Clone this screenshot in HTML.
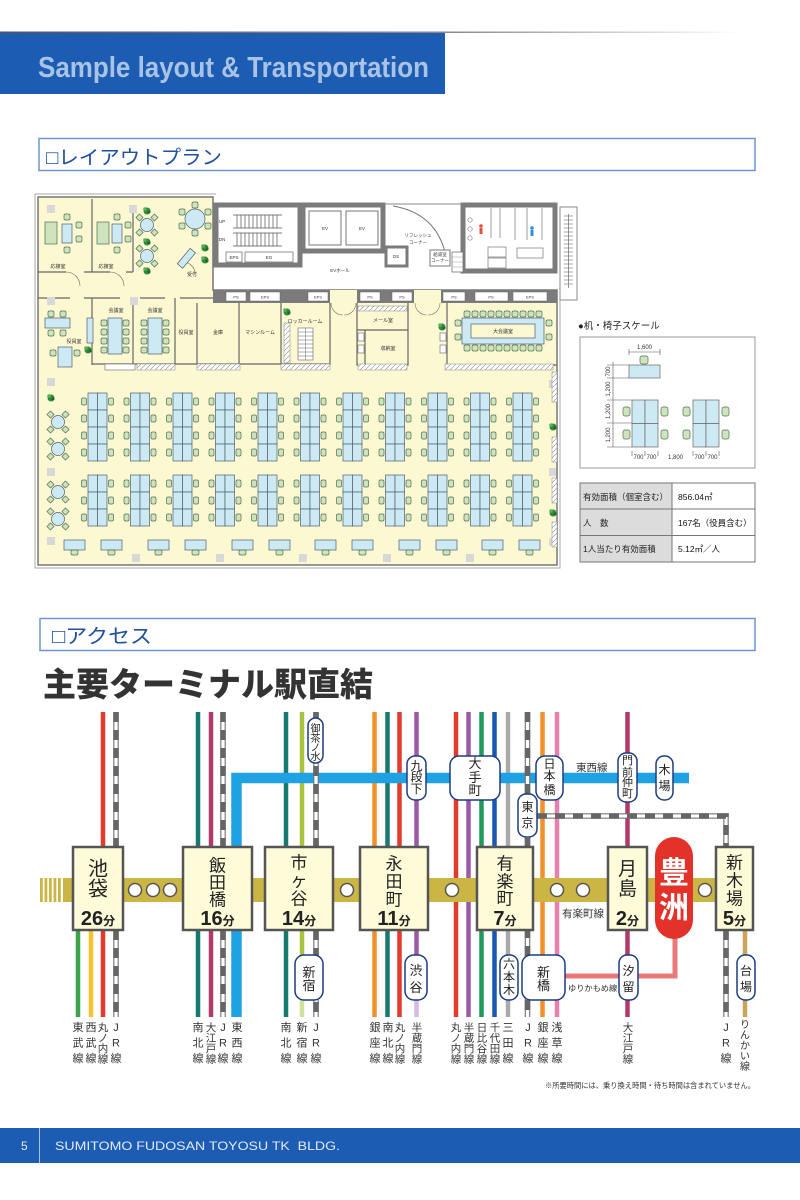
<!DOCTYPE html>
<html><head><meta charset="utf-8"><style>
html,body{margin:0;padding:0;background:#fff;}
svg{display:block;}
</style></head><body>
<svg width="800" height="1200" viewBox="0 0 800 1200" xmlns="http://www.w3.org/2000/svg" font-family="'Liberation Sans','Noto Sans CJK JP',sans-serif">
<defs>
<linearGradient id="gl" x1="0" x2="1" y1="0" y2="0"><stop offset="0" stop-color="#555"/><stop offset="0.6" stop-color="#888"/><stop offset="1" stop-color="#fff"/></linearGradient>
<pattern id="hatch" width="5" height="5" patternUnits="userSpaceOnUse"><rect width="5" height="5" fill="#fff"/><path d="M0,5L5,0" stroke="#888" stroke-width="0.6"/></pattern>
<g id="dr">
<rect x="0" y="0" width="9.5" height="17" fill="#cdeaf4" stroke="#4f5f6f" stroke-width="0.7"/>
<rect x="9.5" y="0" width="9.5" height="17" fill="#cdeaf4" stroke="#4f5f6f" stroke-width="0.7"/>
<rect x="-6.5" y="5" width="5" height="7" rx="1.5" fill="#cfe3bf" stroke="#4f6f4f" stroke-width="0.7"/>
<rect x="20.5" y="5" width="5" height="7" rx="1.5" fill="#cfe3bf" stroke="#4f6f4f" stroke-width="0.7"/>
</g>
<g id="c4"><use href="#dr"/><use href="#dr" y="17"/><use href="#dr" y="34"/><use href="#dr" y="51"/></g>
<g id="c3"><use href="#dr"/><use href="#dr" y="17"/><use href="#dr" y="34"/></g>
<g id="bd">
<rect x="0" y="0" width="21" height="10" fill="#cdeaf4" stroke="#4f5f6f" stroke-width="0.7"/>
<rect x="7" y="10" width="7" height="5" rx="1.5" fill="#cfe3bf" stroke="#4f6f4f" stroke-width="0.7"/>
</g>
<g id="rt">
<rect x="-10" y="-10" width="5" height="5" fill="#cfe3bf" stroke="#4f6f4f" stroke-width="0.7" transform="rotate(45 -7.5 -7.5)"/>
<rect x="5" y="-10" width="5" height="5" fill="#cfe3bf" stroke="#4f6f4f" stroke-width="0.7" transform="rotate(45 7.5 -7.5)"/>
<rect x="-10" y="5" width="5" height="5" fill="#cfe3bf" stroke="#4f6f4f" stroke-width="0.7" transform="rotate(45 -7.5 7.5)"/>
<rect x="5" y="5" width="5" height="5" fill="#cfe3bf" stroke="#4f6f4f" stroke-width="0.7" transform="rotate(45 7.5 7.5)"/>
<circle r="6.5" fill="#cdeaf4" stroke="#4f5f6f" stroke-width="0.7"/>
</g>
<g id="pl"><circle r="3.5" fill="#2f8a3a"/><circle cx="-2" cy="-2" r="1.8" fill="#5cb05c"/><circle cx="2" cy="1" r="1.5" fill="#1f6a2a"/></g>
<rect id="ch" width="6" height="6" rx="1.5" fill="#cfe3bf" stroke="#4f6f4f" stroke-width="0.7"/>
</defs>

<rect width="800" height="1200" fill="#fff"/>

<!-- HEADER -->
<rect x="0" y="31.5" width="740" height="1.5" fill="url(#gl)"/>
<rect x="0" y="33" width="445" height="61" fill="#1d5cb3"/>
<text x="38" y="77" font-size="29" font-weight="bold" fill="#a9c3e4" textLength="391" lengthAdjust="spacingAndGlyphs">Sample layout &amp; Transportation</text>

<!-- SECTION 1 -->
<rect x="39" y="138.5" width="716" height="32" fill="#fff" stroke="#6f95cc" stroke-width="1.5"/>
<text x="46" y="164" font-size="19.5" fill="#1f4fa0" textLength="176" lengthAdjust="spacingAndGlyphs">□レイアウトプラン</text>

<!-- FLOOR PLAN -->
<g>
<path d="M35,194H216 M35,194V568H560V293" fill="none" stroke="#aaa" stroke-width="1"/>
<path d="M38,197H213V290H557V565H38Z" fill="#fcf8d1" stroke="#777" stroke-width="1.5"/>
<!-- core -->
<g fill="#fff" stroke="#7b7b7b">
<rect x="216" y="205" width="84" height="60" stroke-width="5"/>
<rect x="303" y="205" width="80" height="46" stroke-width="5"/>
<rect x="463" y="205" width="92" height="66" stroke-width="5"/>
<rect x="386" y="247" width="21" height="19" stroke-width="3"/>
</g>
<path d="M383,204H463" stroke="#888" stroke-width="1"/>
<path d="M393,206Q440,214 447,262" fill="none" stroke="#777" stroke-width="1"/>
<rect x="430" y="250" width="20" height="16" fill="#fff" stroke="#777" stroke-width="1"/>
<rect x="452" y="252" width="11" height="20" fill="#fff" stroke="#777" stroke-width="0.8"/>
<path d="M452,257H463M452,262H463M452,267H463" stroke="#999" stroke-width="0.6"/>
<g stroke="#555" stroke-width="0.7">
<path d="M233,215H282M233,228H282M233,233H282M233,246H282"/>
<path d="M237,215V228M241,215V228M245,215V228M249,215V228M253,215V228M257,215V228M261,215V228M265,215V228M269,215V228M273,215V228M277,215V228"/>
<path d="M237,233V246M241,233V246M245,233V246M249,233V246M253,233V246M257,233V246M261,233V246M265,233V246M269,233V246M273,233V246M277,233V246"/>
</g>
<rect x="226" y="252" width="16" height="10" fill="#fff" stroke="#777" stroke-width="0.8"/>
<rect x="245" y="252" width="48" height="10" fill="#fff" stroke="#777" stroke-width="0.8"/>
<rect x="309" y="211" width="32" height="34" fill="#fff" stroke="#777" stroke-width="1"/>
<rect x="346" y="211" width="32" height="34" fill="#fff" stroke="#777" stroke-width="1"/>
<g font-size="4.5" fill="#333" text-anchor="middle">
<text x="222" y="223">UP</text><text x="222" y="241">DN</text>
<text x="234" y="259">EPS</text><text x="269" y="259">EG</text>
<text x="325" y="230">EV</text><text x="362" y="230">EV</text>
<text x="396" y="258">DS</text>
<text x="418" y="237">リフレッシュ</text><text x="418" y="244">コーナー</text>
<text x="440" y="256">給湯室</text><text x="440" y="262">コーナー</text>
<text x="340" y="272">EVホール</text>
<text x="497" y="253">DS</text><text x="497" y="265">PS</text>
</g>
<!-- toilets interior -->
<g fill="#fff" stroke="#888" stroke-width="0.8">
<rect x="488" y="247" width="18" height="10"/><rect x="488" y="258" width="18" height="10"/>
<rect x="517" y="248" width="26" height="10"/>
<path d="M491,208V238 M500,208V238 M515,208V240 M527,208V240 M542,208V240" fill="none"/>
</g>
<circle cx="470" cy="220" r="2.2" fill="none" stroke="#888" stroke-width="0.7"/>
<circle cx="470" cy="229" r="2.2" fill="none" stroke="#888" stroke-width="0.7"/>
<circle cx="470" cy="238" r="2.2" fill="none" stroke="#888" stroke-width="0.7"/>
<circle cx="481" cy="226" r="1.8" fill="#e0503a"/><rect x="479.5" y="228" width="3" height="6" fill="#e0503a"/>
<circle cx="532" cy="228" r="1.8" fill="#2f8ed8"/><rect x="530.5" y="230" width="3" height="6" fill="#2f8ed8"/>
<!-- right exterior stair -->
<rect x="560" y="207" width="17" height="93" fill="#fff" stroke="#888" stroke-width="1"/>
<path d="M564,216H573M564,220H573M564,224H573M564,228H573M564,232H573M564,236H573M564,240H573M564,244H573M564,248H573M564,252H573M564,256H573M564,260H573M564,264H573M564,268H573M564,272H573M564,276H573M564,280H573M564,284H573 M568.5,214V288" stroke="#555" stroke-width="0.6"/>
<!-- bottom wall strip -->
<rect x="213" y="290" width="344" height="13" fill="#7b7b7b"/>
<rect x="330" y="290" width="27" height="13" fill="#fcf8d1"/>
<rect x="414" y="290" width="27" height="13" fill="#fcf8d1"/>
<g fill="#fff" stroke="#666" stroke-width="0.5">
<rect x="226" y="292" width="20" height="9"/><rect x="250" y="292" width="30" height="9"/>
<rect x="308" y="292" width="20" height="9"/><rect x="360" y="292" width="20" height="9"/>
<rect x="392" y="292" width="20" height="9"/><rect x="443" y="292" width="22" height="9"/>
<rect x="475" y="292" width="33" height="9"/><rect x="513" y="292" width="34" height="9"/>
</g>
<g font-size="4" fill="#333" text-anchor="middle">
<text x="236" y="298.5">PS</text><text x="265" y="298.5">EPS</text><text x="318" y="298.5">EPS</text>
<text x="370" y="298.5">PS</text><text x="402" y="298.5">PS</text><text x="454" y="298.5">PS</text>
<text x="491" y="298.5">PS</text><text x="530" y="298.5">EPS</text>
</g>
<path d="M331,303A12,12 0 0 0 343,315 M356,303A12,12 0 0 1 344,315 M415,303A12,12 0 0 0 427,315 M440,303A12,12 0 0 1 428,315" fill="none" stroke="#777" stroke-width="0.6"/>
<!-- upper-left rooms -->
<g fill="none" stroke="#666" stroke-width="1.2">
<path d="M92,199V272 M133,212V272 M38,272H66 M84,272H110 M126,272H133 M38,298H70 M84,298H120 M140,298H165 M180,298H213 M92,298V365 M133,298V365 M175,298V365 M197,303V365 M239,303V365 M281,303V365 M330,303V365 M92,364H330 M357,303V365H408V303 M357,330H408 M365,330V365 M447,303V365H557"/>
<path d="M66,272A14,14 0 0 1 80,286 M110,272A14,14 0 0 1 124,286 M183,262A12,12 0 0 1 195,274" stroke-width="0.6"/>
</g>
<g fill="#d8d8d8"><rect x="47" y="205" width="8" height="8"/><rect x="129" y="205" width="8" height="8"/><rect x="47" y="297" width="8" height="8"/><rect x="130" y="297" width="8" height="8"/><rect x="47" y="378" width="8" height="8"/>
<rect x="47" y="468" width="8" height="8"/><rect x="47" y="537" width="8" height="8"/><rect x="132" y="554" width="8" height="8"/><rect x="216" y="554" width="8" height="8"/><rect x="299" y="554" width="8" height="8"/><rect x="383" y="554" width="8" height="8"/><rect x="466" y="554" width="8" height="8"/><rect x="549" y="380" width="7" height="8"/><rect x="549" y="468" width="7" height="8"/><rect x="549" y="538" width="7" height="8"/></g>
<!-- reception rooms furniture -->
<rect x="45" y="222" width="12" height="22" fill="#cfe3bf" stroke="#4f6f4f" stroke-width="0.7"/>
<rect x="62" y="224" width="10" height="19" fill="#cdeaf4" stroke="#4f5f6f" stroke-width="0.7"/>
<use href="#ch" x="64" y="214"/><use href="#ch" x="64" y="247"/><use href="#ch" x="76" y="222"/><use href="#ch" x="76" y="236"/>
<rect x="97" y="222" width="12" height="22" fill="#cfe3bf" stroke="#4f6f4f" stroke-width="0.7"/>
<rect x="112" y="224" width="10" height="19" fill="#cdeaf4" stroke="#4f5f6f" stroke-width="0.7"/>
<use href="#ch" x="114" y="214"/><use href="#ch" x="114" y="247"/><use href="#ch" x="125" y="222"/><use href="#ch" x="125" y="236"/>
<use href="#rt" x="147" y="225"/><use href="#rt" x="147" y="256"/>
<g transform="translate(195 219)"><use href="#ch" x="-3" y="-17"/><use href="#ch" x="-3" y="11"/><use href="#ch" x="-16" y="-10"/><use href="#ch" x="10" y="-10"/><use href="#ch" x="-16" y="4"/><use href="#ch" x="10" y="4"/><circle r="10" fill="#cdeaf4" stroke="#4f5f6f" stroke-width="0.7"/></g>
<rect x="176" y="255" width="20" height="7" fill="#cdeaf4" stroke="#4f5f6f" stroke-width="0.7" transform="rotate(-50 186 258)"/>
<use href="#pl" x="147" y="211"/><use href="#pl" x="147" y="242"/><use href="#pl" x="147" y="271"/><use href="#pl" x="205" y="248"/><use href="#pl" x="205" y="260"/><use href="#pl" x="287" y="312"/><use href="#pl" x="88" y="350"/><use href="#pl" x="442" y="327"/><use href="#pl" x="51" y="398"/><use href="#pl" x="553" y="427"/><use href="#pl" x="553" y="513"/>
<!-- row 2 furniture -->
<rect x="45" y="318" width="25" height="10" fill="#cdeaf4" stroke="#4f5f6f" stroke-width="0.7"/>
<use href="#ch" x="48" y="311"/><use href="#ch" x="60" y="311"/><use href="#ch" x="48" y="330"/><use href="#ch" x="60" y="330"/>
<rect x="58" y="347" width="14" height="20" fill="#cdeaf4" stroke="#4f5f6f" stroke-width="0.7"/>
<use href="#ch" x="50" y="350"/><use href="#ch" x="74" y="350"/>
<rect x="87" y="318" width="6" height="25" fill="#cdeaf4" stroke="#4f5f6f" stroke-width="0.7"/>
<rect x="108" y="318" width="14" height="36" fill="#cdeaf4" stroke="#4f5f6f" stroke-width="0.7"/>
<use href="#ch" x="101" y="320"/><use href="#ch" x="101" y="329"/><use href="#ch" x="101" y="338"/><use href="#ch" x="101" y="347"/>
<use href="#ch" x="123" y="320"/><use href="#ch" x="123" y="329"/><use href="#ch" x="123" y="338"/><use href="#ch" x="123" y="347"/>
<rect x="148" y="318" width="14" height="36" fill="#cdeaf4" stroke="#4f5f6f" stroke-width="0.7"/>
<use href="#ch" x="141" y="320"/><use href="#ch" x="141" y="329"/><use href="#ch" x="141" y="338"/><use href="#ch" x="141" y="347"/>
<use href="#ch" x="163" y="320"/><use href="#ch" x="163" y="329"/><use href="#ch" x="163" y="338"/><use href="#ch" x="163" y="347"/>
<rect x="298" y="328" width="15" height="32" fill="#fff" stroke="#666" stroke-width="0.6"/>
<path d="M305.5,328V360 M298,332H313M298,336H313M298,340H313M298,344H313M298,348H313M298,352H313M298,356H313" stroke="#666" stroke-width="0.5"/>
<rect x="284" y="323" width="6" height="40" fill="url(#hatch)" stroke="#888" stroke-width="0.5"/>
<rect x="358" y="333" width="6" height="8" fill="#fff" stroke="#666" stroke-width="0.6"/><rect x="358" y="345" width="6" height="8" fill="#fff" stroke="#666" stroke-width="0.6"/>
<rect x="440" y="333" width="6" height="8" fill="#fff" stroke="#666" stroke-width="0.6"/><rect x="440" y="345" width="6" height="8" fill="#fff" stroke="#666" stroke-width="0.6"/>
<rect x="462" y="318" width="82" height="26" fill="#cdeaf4" stroke="#4f5f6f" stroke-width="0.7"/>
<rect x="471" y="324" width="64" height="14" fill="#fcf8d1" stroke="#4f5f6f" stroke-width="0.7"/>
<g>
<use href="#ch" x="464" y="311"/><use href="#ch" x="472" y="311"/><use href="#ch" x="480" y="311"/><use href="#ch" x="488" y="311"/><use href="#ch" x="496" y="311"/><use href="#ch" x="504" y="311"/><use href="#ch" x="512" y="311"/><use href="#ch" x="520" y="311"/><use href="#ch" x="528" y="311"/><use href="#ch" x="536" y="311"/>
<use href="#ch" x="464" y="345"/><use href="#ch" x="472" y="345"/><use href="#ch" x="480" y="345"/><use href="#ch" x="488" y="345"/><use href="#ch" x="496" y="345"/><use href="#ch" x="504" y="345"/><use href="#ch" x="512" y="345"/><use href="#ch" x="520" y="345"/><use href="#ch" x="528" y="345"/><use href="#ch" x="536" y="345"/>
<use href="#ch" x="546" y="320"/><use href="#ch" x="546" y="334"/><use href="#ch" x="455" y="320"/><use href="#ch" x="455" y="334"/>
</g>
<g fill="url(#hatch)" stroke="#888" stroke-width="0.5">
<rect x="137" y="364" width="38" height="6"/><rect x="197" y="364" width="43" height="6"/><rect x="281" y="364" width="49" height="6"/><rect x="358" y="364" width="49" height="6"/><rect x="445" y="364" width="108" height="6"/><rect x="358" y="306" width="49" height="5"/>
<rect x="552" y="372" width="5" height="30"/><rect x="552" y="437" width="5" height="25"/><rect x="552" y="478" width="5" height="25"/><rect x="552" y="522" width="5" height="25"/>
</g>
<rect x="105" y="364" width="30" height="6" fill="#fff" stroke="#666" stroke-width="0.6"/>
<g font-size="5" fill="#333" text-anchor="middle">
<text x="58" y="268">応接室</text><text x="106" y="268">応接室</text><text x="192" y="276">受付</text>
<text x="74" y="343">役員室</text><text x="116" y="312">会議室</text><text x="155" y="312">会議室</text>
<text x="186" y="334">役員室</text><text x="218" y="334">金庫</text><text x="260" y="334">マシンルーム</text>
<text x="305" y="323">ロッカールーム</text><text x="383" y="322">メール室</text><text x="388" y="350">収納室</text>
<text x="503" y="333">大会議室</text>
</g>
<!-- open office -->
<use href="#c4" x="88" y="393"/><use href="#c4" x="130.5" y="393"/><use href="#c4" x="173" y="393"/><use href="#c4" x="215.5" y="393"/><use href="#c4" x="258" y="393"/><use href="#c4" x="300.5" y="393"/><use href="#c4" x="343" y="393"/><use href="#c4" x="385.5" y="393"/><use href="#c4" x="428" y="393"/><use href="#c4" x="470.5" y="393"/><use href="#c4" x="513" y="393"/>
<use href="#c3" x="88" y="475"/><use href="#c3" x="130.5" y="475"/><use href="#c3" x="173" y="475"/><use href="#c3" x="215.5" y="475"/><use href="#c3" x="258" y="475"/><use href="#c3" x="300.5" y="475"/><use href="#c3" x="343" y="475"/><use href="#c3" x="385.5" y="475"/><use href="#c3" x="428" y="475"/><use href="#c3" x="470.5" y="475"/><use href="#c3" x="513" y="475"/>
<use href="#bd" x="64" y="540"/><use href="#bd" x="101" y="540"/><use href="#bd" x="148" y="540"/><use href="#bd" x="185" y="540"/><use href="#bd" x="232" y="540"/><use href="#bd" x="269" y="540"/><use href="#bd" x="315" y="540"/><use href="#bd" x="352" y="540"/><use href="#bd" x="399" y="540"/><use href="#bd" x="436" y="540"/><use href="#bd" x="482" y="540"/><use href="#bd" x="519" y="540"/>
<use href="#rt" x="58" y="422"/><use href="#rt" x="58" y="449"/><use href="#rt" x="58" y="492"/><use href="#rt" x="58" y="519"/>
</g>

<!-- SCALE -->
<text x="578" y="329" font-size="9.5" fill="#222">●机・椅子スケール</text>
<rect x="580" y="337" width="175" height="131" fill="#fff" stroke="#999" stroke-width="1"/>
<g stroke="#555" stroke-width="0.6" fill="none">
<path d="M629,352H660 M629,349V355 M660,349V355"/>
<path d="M613,362V447 M607,365H629 M607,378H629 M607,400H632 M607,423H632 M607,447H632"/>
<path d="M632,451V456 M645,451V456 M658,451V456 M693,451V456 M706,451V456 M719,451V456"/>
</g>
<rect x="640" y="356" width="8" height="8" rx="2" fill="#cfe3bf" stroke="#4f6f4f" stroke-width="0.7"/>
<rect x="629" y="365" width="31" height="13" fill="#cdeaf4" stroke="#666" stroke-width="0.7"/>
<g fill="#cdeaf4" stroke="#666" stroke-width="0.7">
<rect x="632" y="400" width="13" height="23.5"/><rect x="645" y="400" width="13" height="23.5"/><rect x="632" y="423.5" width="13" height="23.5"/><rect x="645" y="423.5" width="13" height="23.5"/>
<rect x="693" y="400" width="13" height="23.5"/><rect x="706" y="400" width="13" height="23.5"/><rect x="693" y="423.5" width="13" height="23.5"/><rect x="706" y="423.5" width="13" height="23.5"/>
</g>
<g fill="#cfe3bf" stroke="#4f6f4f" stroke-width="0.7">
<rect x="623" y="407" width="7" height="9" rx="2"/><rect x="623" y="430" width="7" height="9" rx="2"/><rect x="661" y="407" width="7" height="9" rx="2"/><rect x="661" y="430" width="7" height="9" rx="2"/>
<rect x="683" y="407" width="7" height="9" rx="2"/><rect x="683" y="430" width="7" height="9" rx="2"/><rect x="722" y="407" width="7" height="9" rx="2"/><rect x="722" y="430" width="7" height="9" rx="2"/>
</g>
<g font-size="6" fill="#333" text-anchor="middle">
<text x="644.5" y="349">1,600</text>
<text x="638.5" y="459">700</text><text x="651.5" y="459">700</text><text x="675.5" y="459">1,800</text><text x="699.5" y="459">700</text><text x="712.5" y="459">700</text>
<text transform="translate(610 371.5) rotate(-90)">700</text>
<text transform="translate(610 389) rotate(-90)">1,200</text>
<text transform="translate(610 411.5) rotate(-90)">1,200</text>
<text transform="translate(610 435) rotate(-90)">1,200</text>
</g>
<!-- table -->
<rect x="580" y="483" width="92" height="79" fill="#dcdcdc"/>
<rect x="580" y="483" width="175" height="79" fill="none" stroke="#777" stroke-width="1"/>
<path d="M672,483V562 M580,509H755 M580,535.5H755" stroke="#777" stroke-width="1"/>
<g font-size="8.5" fill="#222">
<text x="583" y="500">有効面積（個室含む）</text>
<text x="583" y="526">人　数</text>
<text x="583" y="552">1人当たり有効面積</text>
<text x="678" y="500" fill="#111">856.04㎡</text>
<text x="678" y="526" fill="#111">167名（役員含む）</text>
<text x="678" y="552" fill="#111">5.12㎡／人</text>
</g>

<!-- SECTION 2 -->
<rect x="40" y="618.5" width="715" height="32" fill="#fff" stroke="#6f95cc" stroke-width="1.5"/>
<text x="52" y="643" font-size="20" fill="#1f4fa0" textLength="100" lengthAdjust="spacingAndGlyphs">□アクセス</text>
<text x="43" y="696" font-size="33" font-weight="900" fill="#333" textLength="330" lengthAdjust="spacingAndGlyphs">主要ターミナル駅直結</text>

<!-- TRANSIT: vertical lines -->
<g fill="none" stroke-width="4.5">
<path d="M103,712V1017 M399.5,712V1017 M456,712V1017" stroke="#e23b2e"/>
<path d="M78,930V1017" stroke="#3ca34a"/>
<path d="M91,930V1017" stroke="#f6c431"/>
<path d="M198,712V1017 M286,712V1017 M387.5,712V1017" stroke="#17796f"/>
<path d="M211,712V1017 M627.5,712V1017" stroke="#b23a6b"/>
<path d="M302,712V1000" stroke="#a9c23f"/>
<path d="M302,1000V1017" stroke="#cfe39a"/>
<path d="M374.5,712V1017 M542.5,712V1017" stroke="#f0922b"/>
<path d="M416.5,712V1000 M468.5,712V1017" stroke="#9b59a8"/>
<path d="M416.5,1000V1017" stroke="#d8b9e2"/>
<path d="M481.5,712V1017" stroke="#1e9b5c"/>
<path d="M494.5,712V1017" stroke="#1957b5"/>
<path d="M508,712V1017" stroke="#a9a9a9"/>
<path d="M557,712V1017" stroke="#ea7fae"/>
<path d="M745,930V1017" stroke="#c9a45a"/>
</g>
<!-- Tozai -->
<path d="M236.5,1017V778H689" fill="none" stroke="#1fa2e4" stroke-width="10.5" stroke-linejoin="miter"/>
<!-- JR -->
<g fill="none">
<path d="M116,712V847 M116,930V1017 M223,712V847 M223,930V1017 M316,712V847 M316,930V1017 M527.5,712V1017 M537,816H726V847 M726,930V1017" stroke="#777" stroke-width="5.5"/>
<path d="M116,712V847 M116,930V1017 M223,712V847 M223,930V1017 M316,712V847 M316,930V1017 M527.5,712V1017 M537,816H726V847 M726,930V1017" stroke="#fff" stroke-width="3.2"/>
<path d="M116,712V847 M116,930V1017 M223,712V847 M223,930V1017 M316,712V847 M316,930V1017 M527.5,712V1017 M537,816H726V847 M726,930V1017" stroke="#666" stroke-width="5.5" stroke-dasharray="10 8"/>
</g>
<!-- Yurikamome -->
<path d="M675,935V976H565" fill="none" stroke="#ea7a7a" stroke-width="5"/>
<!-- Yurakucho band -->
<g fill="#cbb544">
<rect x="63" y="878" width="657" height="24"/>
<rect x="40" y="878" width="2.8" height="24"/><rect x="44.5" y="878" width="2.8" height="24"/><rect x="49" y="878" width="2.8" height="24"/><rect x="53.5" y="878" width="2.8" height="24"/><rect x="58" y="878" width="2.8" height="24"/>
</g>
<g fill="#fff" stroke="#555" stroke-width="1.5">
<circle cx="135" cy="890" r="6.5"/><circle cx="153" cy="890" r="6.5"/><circle cx="170" cy="890" r="6.5"/><circle cx="347" cy="890" r="6.5"/><circle cx="452" cy="890" r="6.5"/><circle cx="557" cy="890" r="6.5"/><circle cx="583" cy="890" r="6.5"/><circle cx="705" cy="890" r="6.5"/>
</g>
<!-- station boxes -->
<g fill="#fdfbd8" stroke="#555" stroke-width="2.5">
<rect x="73" y="847" width="50" height="83"/>
<rect x="183" y="847" width="69" height="83"/>
<rect x="265" y="847" width="68" height="83"/>
<rect x="360" y="847" width="68" height="83"/>
<rect x="477" y="847" width="56" height="83"/>
<rect x="608" y="847" width="39" height="83"/>
<rect x="716" y="847" width="37" height="83"/>
</g>
<rect x="655" y="837" width="38" height="102" rx="19" fill="#e2322a"/>
<g fill="#222" text-anchor="middle">
<g font-size="20"><text x="98" y="875.5">池</text><text x="98" y="895.5">袋</text></g>
<g font-size="17"><text x="217.5" y="871.5">飯</text><text x="217.5" y="888.5">田</text><text x="217.5" y="905.5">橋</text></g>
<g font-size="17"><text x="299" y="868.5">市</text><text x="299" y="886.5">ヶ</text><text x="299" y="904.5">谷</text></g>
<g font-size="17"><text x="394" y="869.5">永</text><text x="394" y="887.5">田</text><text x="394" y="905.5">町</text></g>
<g font-size="17"><text x="505" y="869.5">有</text><text x="505" y="887.5">楽</text><text x="505" y="904.5">町</text></g>
<g font-size="19"><text x="627.5" y="875">月</text><text x="627.5" y="895">島</text></g>
<g font-size="17"><text x="734.5" y="868.5">新</text><text x="734.5" y="886.5">木</text><text x="734.5" y="904.5">場</text></g>
<g font-weight="bold">
<text x="98" y="925"><tspan font-size="20">26</tspan><tspan font-size="12">分</tspan></text>
<text x="217.5" y="925"><tspan font-size="20">16</tspan><tspan font-size="12">分</tspan></text>
<text x="299" y="925"><tspan font-size="20">14</tspan><tspan font-size="12">分</tspan></text>
<text x="394" y="925"><tspan font-size="20">11</tspan><tspan font-size="12">分</tspan></text>
<text x="505" y="925"><tspan font-size="20">7</tspan><tspan font-size="12">分</tspan></text>
<text x="627.5" y="925"><tspan font-size="20">2</tspan><tspan font-size="12">分</tspan></text>
<text x="734.5" y="925"><tspan font-size="20">5</tspan><tspan font-size="12">分</tspan></text>
</g>
<g font-size="30" font-weight="bold" fill="#fff"><text x="674" y="883">豊</text><text x="674" y="918">洲</text></g>
</g>
<!-- pills -->
<g fill="#fff" stroke="#1c3c80" stroke-width="1.5">
<rect x="308" y="718" width="15" height="45" rx="7.5"/>
<rect x="407" y="756" width="19" height="44" rx="8"/>
<rect x="450" y="756" width="50" height="44" rx="9"/>
<rect x="536" y="756" width="27" height="44" rx="9"/>
<rect x="518" y="794" width="19" height="43" rx="8"/>
<rect x="618" y="753" width="19" height="49" rx="8"/>
<rect x="656" y="756" width="17" height="44" rx="8"/>
<rect x="295" y="955" width="28" height="45" rx="9"/>
<rect x="405" y="955" width="22" height="45" rx="9"/>
<rect x="500" y="955" width="18" height="45" rx="8"/>
<rect x="522" y="955" width="43" height="45" rx="9"/>
<rect x="619" y="955" width="19" height="45" rx="8"/>
<rect x="737" y="955" width="18" height="45" rx="8"/>
</g>
<g fill="#222" text-anchor="middle">
<g font-size="10"><text x="315.5" y="732">御</text><text x="315.5" y="742">茶</text><text x="315.5" y="751">ノ</text><text x="315.5" y="760">水</text></g>
<g font-size="12"><text x="416.5" y="770">九</text><text x="416.5" y="781">段</text><text x="416.5" y="793">下</text></g>
<g font-size="13"><text x="475" y="768">大</text><text x="475" y="782">手</text><text x="475" y="795">町</text></g>
<g font-size="12"><text x="549.5" y="768">日</text><text x="549.5" y="780">本</text><text x="549.5" y="794">橋</text></g>
<g font-size="12"><text x="527.5" y="811">東</text><text x="527.5" y="827">京</text></g>
<g font-size="11"><text x="627.5" y="764">門</text><text x="627.5" y="776">前</text><text x="627.5" y="786">仲</text><text x="627.5" y="797">町</text></g>
<g font-size="12"><text x="664.5" y="774">木</text><text x="664.5" y="790">場</text></g>
<g font-size="13"><text x="309" y="977">新</text><text x="309" y="990">宿</text></g>
<g font-size="13"><text x="416" y="975">渋</text><text x="416" y="992">谷</text></g>
<g font-size="12"><text x="509" y="968">六</text><text x="509" y="981">本</text><text x="509" y="994">木</text></g>
<g font-size="13"><text x="543.5" y="977">新</text><text x="543.5" y="990">橋</text></g>
<g font-size="12"><text x="628.5" y="975">汐</text><text x="628.5" y="991">留</text></g>
<g font-size="12"><text x="746" y="975">台</text><text x="746" y="991">場</text></g>
</g>
<g font-size="10.5" fill="#333">
<text x="576" y="771">東西線</text>
<text x="562" y="917">有楽町線</text>
</g>
<text x="568" y="991" font-size="8.2" fill="#333">ゆりかもめ線</text>

<!-- bottom line labels -->
<g font-size="11" fill="#333" text-anchor="middle">
<!-- 3-char labels -->
<g><text x="78" y="1031">東</text><text x="78" y="1046.5">武</text><text x="78" y="1062">線</text></g>
<g><text x="91" y="1031">西</text><text x="91" y="1046.5">武</text><text x="91" y="1062">線</text></g>
<g><text x="116" y="1031">J</text><text x="116" y="1046.5">R</text><text x="116" y="1062">線</text></g>
<g><text x="198" y="1031">南</text><text x="198" y="1046.5">北</text><text x="198" y="1062">線</text></g>
<g><text x="223" y="1031">J</text><text x="223" y="1046.5">R</text><text x="223" y="1062">線</text></g>
<g><text x="237" y="1031">東</text><text x="237" y="1046.5">西</text><text x="237" y="1062">線</text></g>
<g><text x="286" y="1031">南</text><text x="286" y="1046.5">北</text><text x="286" y="1062">線</text></g>
<g><text x="302" y="1031">新</text><text x="302" y="1046.5">宿</text><text x="302" y="1062">線</text></g>
<g><text x="316" y="1031">J</text><text x="316" y="1046.5">R</text><text x="316" y="1062">線</text></g>
<g><text x="375" y="1031">銀</text><text x="375" y="1046.5">座</text><text x="375" y="1062">線</text></g>
<g><text x="388" y="1031">南</text><text x="388" y="1046.5">北</text><text x="388" y="1062">線</text></g>
<g><text x="508" y="1031">三</text><text x="508" y="1046.5">田</text><text x="508" y="1062">線</text></g>
<g><text x="528" y="1031">J</text><text x="528" y="1046.5">R</text><text x="528" y="1062">線</text></g>
<g><text x="543" y="1031">銀</text><text x="543" y="1046.5">座</text><text x="543" y="1062">線</text></g>
<g><text x="557" y="1031">浅</text><text x="557" y="1046.5">草</text><text x="557" y="1062">線</text></g>
<g><text x="726" y="1031">J</text><text x="726" y="1046.5">R</text><text x="726" y="1062">線</text></g>
</g>
<g font-size="10.5" fill="#333" text-anchor="middle">
<g><text x="103" y="1031">丸</text><text x="103" y="1041.5">ノ</text><text x="103" y="1052">内</text><text x="103" y="1062.5">線</text></g>
<g><text x="211" y="1031">大</text><text x="211" y="1041.5">江</text><text x="211" y="1052">戸</text><text x="211" y="1062.5">線</text></g>
<g><text x="400" y="1031">丸</text><text x="400" y="1041.5">ノ</text><text x="400" y="1052">内</text><text x="400" y="1062.5">線</text></g>
<g><text x="417" y="1031">半</text><text x="417" y="1041.5">蔵</text><text x="417" y="1052">門</text><text x="417" y="1062.5">線</text></g>
<g><text x="456" y="1031">丸</text><text x="456" y="1041.5">ノ</text><text x="456" y="1052">内</text><text x="456" y="1062.5">線</text></g>
<g><text x="469" y="1031">半</text><text x="469" y="1041.5">蔵</text><text x="469" y="1052">門</text><text x="469" y="1062.5">線</text></g>
<g><text x="482" y="1031">日</text><text x="482" y="1041.5">比</text><text x="482" y="1052">谷</text><text x="482" y="1062.5">線</text></g>
<g><text x="495" y="1031">千</text><text x="495" y="1041.5">代</text><text x="495" y="1052">田</text><text x="495" y="1062.5">線</text></g>
<g><text x="628" y="1031">大</text><text x="628" y="1041.5">江</text><text x="628" y="1052">戸</text><text x="628" y="1062.5">線</text></g>
</g>
<g font-size="10" fill="#333" text-anchor="middle">
<text x="745" y="1028">り</text><text x="745" y="1038.5">ん</text><text x="745" y="1049">か</text><text x="745" y="1059.5">い</text><text x="745" y="1070">線</text>
</g>
<text x="545" y="1088" font-size="7.5" fill="#333" textLength="210" lengthAdjust="spacingAndGlyphs">※所要時間には、乗り換え時間・待ち時間は含まれていません。</text>

<!-- FOOTER -->
<rect x="0" y="1128" width="800" height="35" fill="#1d5cb3"/>
<rect x="39" y="1128" width="1" height="35" fill="#a9c3e4"/>
<text x="21" y="1150" font-size="12" fill="#e3eaf5">5</text>
<text x="55" y="1150" font-size="12" fill="#e3eaf5" textLength="285" lengthAdjust="spacingAndGlyphs">SUMITOMO FUDOSAN TOYOSU TK&#160;&#160;BLDG.</text>
</svg>
</body></html>
